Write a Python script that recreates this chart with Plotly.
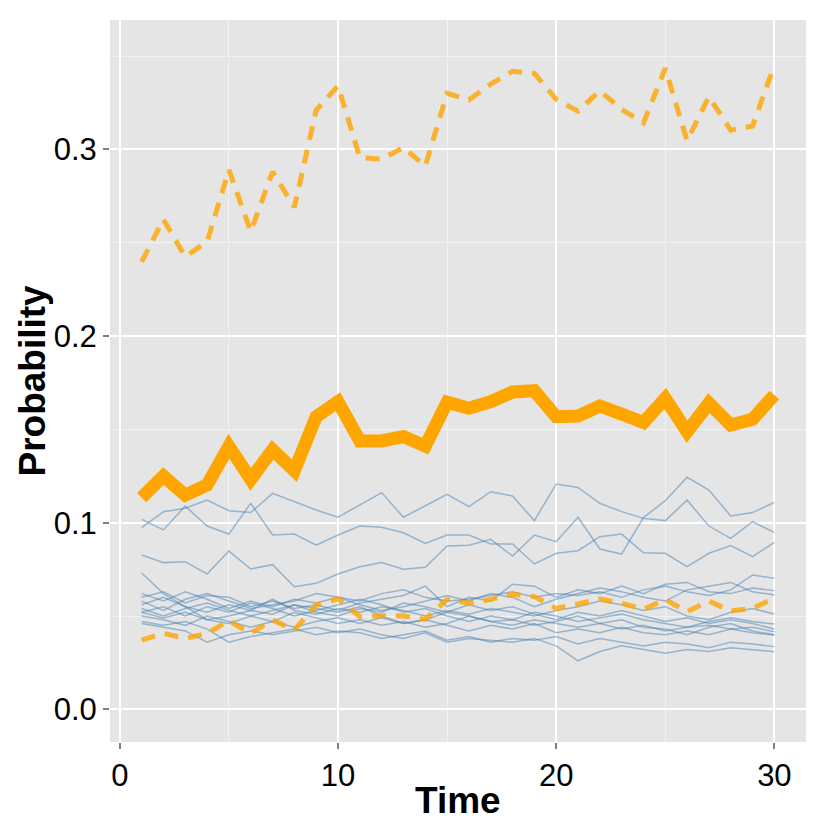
import plotly.graph_objects as go

time = list(range(1, 31))

mean_prob = [0.1134, 0.125, 0.1148, 0.1202, 0.141, 0.1232, 0.139, 0.1279, 0.1568, 0.1648,
             0.1438, 0.1438, 0.1461, 0.141, 0.1645, 0.1613, 0.1648, 0.170, 0.1707, 0.1568,
             0.1571, 0.1625, 0.1582, 0.1536, 0.1666, 0.1487, 0.164, 0.1523, 0.1554, 0.1684]

upper_prob = [0.2398, 0.2625, 0.2425, 0.2505, 0.289, 0.256, 0.288, 0.269, 0.321, 0.334,
              0.2955, 0.2948, 0.301, 0.291, 0.330, 0.3265, 0.335, 0.3418, 0.3407, 0.3268,
              0.3205, 0.3314, 0.3214, 0.3142, 0.3434, 0.3046, 0.3282, 0.3103, 0.3125, 0.3451]

lower_prob = [0.0371, 0.0407, 0.038, 0.0407, 0.0475, 0.0407, 0.0479, 0.0425, 0.0559, 0.0592,
              0.0496, 0.0502, 0.050, 0.0482, 0.0589, 0.0568, 0.0589, 0.0616, 0.0604, 0.0541,
              0.0564, 0.0591, 0.0568, 0.0536, 0.0589, 0.0523, 0.058, 0.0527, 0.0541, 0.0595]

sim_a = [0.0973, 0.1059, 0.1077, 0.1121, 0.1064, 0.1054, 0.1157, 0.1113, 0.1068, 0.1029,
         0.1095, 0.1161, 0.1029, 0.1091, 0.1152, 0.1086, 0.1166, 0.1143, 0.1011, 0.1207,
         0.1189, 0.1104, 0.1059, 0.1023, 0.1011, 0.1121, 0.0982, 0.0916, 0.1005, 0.0948]
sim_b = [0.1018, 0.0961, 0.1089, 0.0982, 0.0939, 0.1104, 0.0934, 0.0939, 0.0880, 0.0934,
         0.0982, 0.0975, 0.0946, 0.0889, 0.0934, 0.0934, 0.0886, 0.0886, 0.0779, 0.0836,
         0.0850, 0.0925, 0.0939, 0.0839, 0.0836, 0.0764, 0.0836, 0.0877, 0.0818, 0.0895]
sim_c = [0.0827, 0.0786, 0.0791, 0.0725, 0.0848, 0.0752, 0.0775, 0.0657, 0.0675, 0.0725,
         0.0764, 0.0786, 0.0750, 0.0761, 0.0875, 0.0879, 0.0911, 0.0821, 0.0934, 0.0898,
         0.1029, 0.0859, 0.0832, 0.1027, 0.1118, 0.1243, 0.1175, 0.1036, 0.1054, 0.1109]
sim_d = [0.073, 0.062, 0.055, 0.048, 0.050, 0.053, 0.051, 0.056, 0.054, 0.052,
         0.055, 0.050, 0.046, 0.048, 0.052, 0.050, 0.047, 0.048, 0.045, 0.047,
         0.050, 0.046, 0.048, 0.044, 0.043, 0.040, 0.044, 0.046, 0.042, 0.040]
sim_e = [0.062, 0.058, 0.063, 0.059, 0.054, 0.058, 0.055, 0.059, 0.057, 0.060,
         0.058, 0.062, 0.064, 0.060, 0.058, 0.059, 0.061, 0.063, 0.060, 0.062,
         0.061, 0.063, 0.060, 0.064, 0.066, 0.063, 0.061, 0.064, 0.072, 0.0702]
sim_f = [0.060, 0.063, 0.057, 0.061, 0.060, 0.055, 0.058, 0.054, 0.056, 0.053,
         0.057, 0.059, 0.061, 0.066, 0.055, 0.060, 0.058, 0.067, 0.066, 0.060,
         0.064, 0.062, 0.066, 0.062, 0.067, 0.068, 0.063, 0.062, 0.065, 0.0636]
sim_g = [0.058, 0.053, 0.059, 0.062, 0.058, 0.054, 0.056, 0.058, 0.062, 0.060,
         0.056, 0.053, 0.055, 0.058, 0.061, 0.058, 0.062, 0.060, 0.055, 0.059,
         0.062, 0.065, 0.063, 0.060, 0.058, 0.064, 0.066, 0.068, 0.063, 0.0613]
sim_h = [0.056, 0.060, 0.055, 0.052, 0.056, 0.053, 0.059, 0.053, 0.051, 0.054,
         0.052, 0.055, 0.053, 0.050, 0.053, 0.051, 0.054, 0.052, 0.050, 0.053,
         0.055, 0.058, 0.056, 0.053, 0.055, 0.050, 0.048, 0.052, 0.054, 0.0511]
sim_i = [0.052, 0.055, 0.050, 0.055, 0.052, 0.057, 0.054, 0.050, 0.053, 0.056,
         0.059, 0.056, 0.052, 0.054, 0.050, 0.047, 0.050, 0.048, 0.052, 0.050,
         0.047, 0.049, 0.051, 0.048, 0.046, 0.044, 0.047, 0.049, 0.047, 0.0457]
sim_j = [0.052, 0.049, 0.052, 0.048, 0.046, 0.050, 0.047, 0.052, 0.049, 0.046,
         0.048, 0.045, 0.047, 0.044, 0.046, 0.050, 0.047, 0.045, 0.048, 0.046,
         0.044, 0.046, 0.043, 0.045, 0.042, 0.044, 0.045, 0.043, 0.044, 0.0416]
sim_k = [0.050, 0.048, 0.045, 0.050, 0.047, 0.044, 0.047, 0.044, 0.047, 0.049,
         0.046, 0.049, 0.046, 0.048, 0.045, 0.042, 0.045, 0.043, 0.046, 0.041,
         0.043, 0.041, 0.044, 0.041, 0.040, 0.042, 0.040, 0.043, 0.041, 0.0398]
sim_l = [0.047, 0.045, 0.047, 0.043, 0.036, 0.039, 0.041, 0.043, 0.040, 0.042,
         0.041, 0.038, 0.040, 0.042, 0.037, 0.039, 0.036, 0.038, 0.037, 0.039,
         0.035, 0.038, 0.036, 0.034, 0.036, 0.035, 0.033, 0.036, 0.035, 0.0336]
sim_m = [0.046, 0.044, 0.042, 0.036, 0.040, 0.042, 0.040, 0.042, 0.044, 0.041,
         0.043, 0.040, 0.038, 0.041, 0.036, 0.038, 0.037, 0.036, 0.038, 0.034,
         0.026, 0.031, 0.034, 0.032, 0.030, 0.032, 0.031, 0.033, 0.032, 0.0309]
sim_n = [0.054, 0.050, 0.054, 0.057, 0.053, 0.050, 0.053, 0.056, 0.052, 0.050,
         0.054, 0.052, 0.057, 0.055, 0.052, 0.056, 0.053, 0.055, 0.051, 0.048,
         0.052, 0.050, 0.053, 0.050, 0.047, 0.049, 0.046, 0.048, 0.046, 0.043]

sims = [sim_a, sim_b, sim_c, sim_d, sim_e, sim_f, sim_g, sim_h, sim_i, sim_j, sim_k, sim_l, sim_m, sim_n]

x_ticks = [0, 10, 20, 30]
x_labels = ["0", "10", "20", "30"]
y_ticks = [0.0, 0.1, 0.2, 0.3]
y_labels = ["0.0", "0.1", "0.2", "0.3"]
x_title = "Time"
y_title = "Probability"

fig = go.Figure()
for s in sims:
    fig.add_trace(go.Scatter(x=time, y=s, mode="lines",
                             line=dict(color="rgba(70,130,180,0.5)", width=1.5),
                             showlegend=False, hoverinfo="skip"))

fig.add_trace(go.Scatter(x=time, y=mean_prob, mode="lines",
                         line=dict(color="#FFA500", width=13),
                         showlegend=False))
for s in (upper_prob, lower_prob):
    fig.add_trace(go.Scatter(x=time, y=s, mode="lines",
                             line=dict(color="rgba(255,165,0,0.8)", width=5, dash="14px,10px"),
                             showlegend=False))

font_family = "Liberation Sans, Arial, sans-serif"
fig.update_layout(
    width=830, height=830,
    margin=dict(l=110, r=24, t=20, b=88),
    paper_bgcolor="white",
    plot_bgcolor="#E5E5E5",
    font=dict(family=font_family, color="black"),
    showlegend=False,
    annotations=[
        dict(text="<b>" + x_title + "</b>", xref="paper", yref="paper",
             x=0.5, y=0, yshift=-58, xanchor="center", yanchor="middle",
             showarrow=False, font=dict(size=37, color="black")),
        dict(text="<b>" + y_title + "</b>", xref="paper", yref="paper",
             x=0, y=0.5, xshift=-101, xanchor="left", yanchor="middle",
             textangle=-90, showarrow=False, font=dict(size=37, color="black")),
    ],
)
fig.update_xaxes(
    range=[-0.45, 31.45], automargin=False,
    tickvals=x_ticks, ticktext=x_labels,
    tickfont=dict(size=31, color="black"),
    ticks="outside", ticklen=6, tickwidth=1.5, tickcolor="#7F7F7F",
    showgrid=True, gridcolor="white", gridwidth=1.6,
    minor=dict(dtick=5, tick0=5, showgrid=True, gridcolor="#F2F2F2", gridwidth=0.9, ticks=""),
    zeroline=False, showline=False,
)
fig.update_yaxes(
    range=[-0.0175, 0.3693], automargin=False,
    tickvals=y_ticks, ticktext=y_labels,
    tickfont=dict(size=31, color="black"),
    ticks="outside", ticklen=6, tickwidth=1.5, tickcolor="#7F7F7F",
    showgrid=True, gridcolor="white", gridwidth=1.6,
    minor=dict(dtick=0.05, tick0=0.05, showgrid=True, gridcolor="#F2F2F2", gridwidth=0.9, ticks=""),
    zeroline=False, showline=False,
)

fig.write_html("out.html", config={"displayModeBar": False},
               post_script="document.body.style.margin='0';document.body.style.overflow='hidden';")
